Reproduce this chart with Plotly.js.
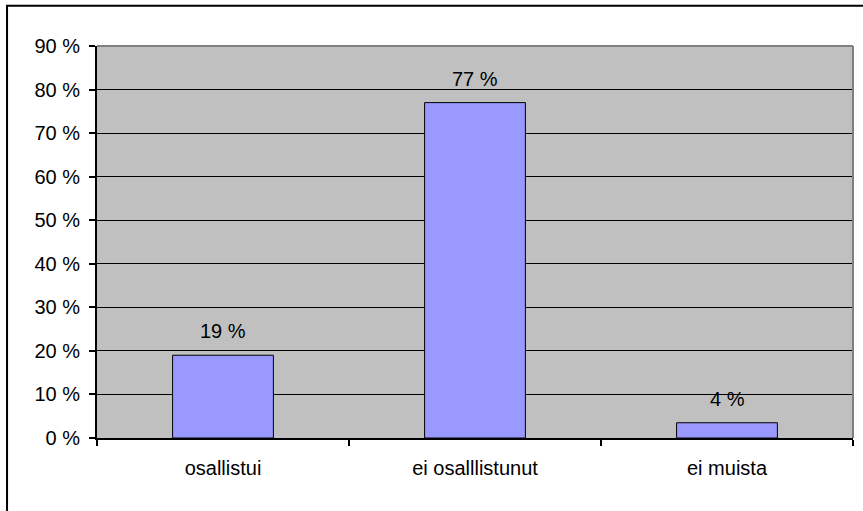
<!DOCTYPE html>
<html>
<head>
<meta charset="utf-8">
<script src="https://cdn.plot.ly/plotly-3.0.1.min.js"></script>
<style>
html,body{margin:0;padding:0;background:#fff;overflow:hidden;}
#chart{width:863px;height:511px;}
</style>
</head>
<body>
<div id="chart"></div>
<script>
var categories = ["osallistui", "ei osalllistunut", "ei muista"];
var values = [19, 77, 3.5];
var valueLabels = ["19 %", "77 %", "4 %"];
var yTickValues = [0, 10, 20, 30, 40, 50, 60, 70, 80, 90];
var yTickLabels = ["0 %", "10 %", "20 %", "30 %", "40 %", "50 %", "60 %", "70 %", "80 %", "90 %"];

var FONT = "Liberation Sans, Arial, sans-serif";

var trace = {
  type: "bar",
  x: categories,
  y: values,
  marker: {color: "#9999FF", line: {color: "#000000", width: 1}},
  hoverinfo: "none"
};

var annotations = categories.map(function(c, i) {
  return {
    x: c, y: values[i], xref: "x", yref: "y",
    text: valueLabels[i], showarrow: false,
    yanchor: "middle", yshift: 24,
    font: {family: FONT, size: 20, color: "#000"}
  };
});

var layout = {
  width: 863, height: 511,
  margin: {l: 97, r: 10, t: 46, b: 73},
  paper_bgcolor: "#ffffff",
  plot_bgcolor: "#C0C0C0",
  showlegend: false,
  bargap: 0.6,
  font: {family: FONT, size: 20, color: "#000"},
  xaxis: {
    type: "category",
    showline: true, linecolor: "#000", linewidth: 2,
    ticks: "outside", tickson: "boundaries", ticklen: 6, tickcolor: "#000", tickwidth: 2,
    showgrid: false,
    ticklabelstandoff: 11,
    tickfont: {family: FONT, size: 20, color: "#000"},
    fixedrange: true
  },
  yaxis: {
    range: [0, 90],
    tickvals: yTickValues, ticktext: yTickLabels,
    showline: true, linecolor: "#000", linewidth: 2,
    ticks: "outside", ticklen: 6, tickcolor: "#000", tickwidth: 2,
    showgrid: true, gridcolor: "#000", gridwidth: 1,
    zeroline: false,
    ticklabelstandoff: 5,
    tickfont: {family: FONT, size: 20, color: "#000"},
    fixedrange: true
  },
  annotations: annotations,
  shapes: [
    {type: "line", xref: "paper", yref: "paper", x0: 0, x1: 1, y0: 1, y1: 1, line: {color: "#808080", width: 2}},
    {type: "line", xref: "paper", yref: "paper", x0: 1, x1: 1, y0: 0, y1: 1, line: {color: "#808080", width: 2}},
    {type: "rect", xref: "paper", yref: "paper", x0: -0.119, x1: 1.05, y0: -0.25, y1: 1.1025, line: {color: "#000", width: 2}, fillcolor: "rgba(0,0,0,0)", layer: "above"}
  ]
};

Plotly.newPlot("chart", [trace], layout, {displayModeBar: false, staticPlot: true});
</script>
</body>
</html>
